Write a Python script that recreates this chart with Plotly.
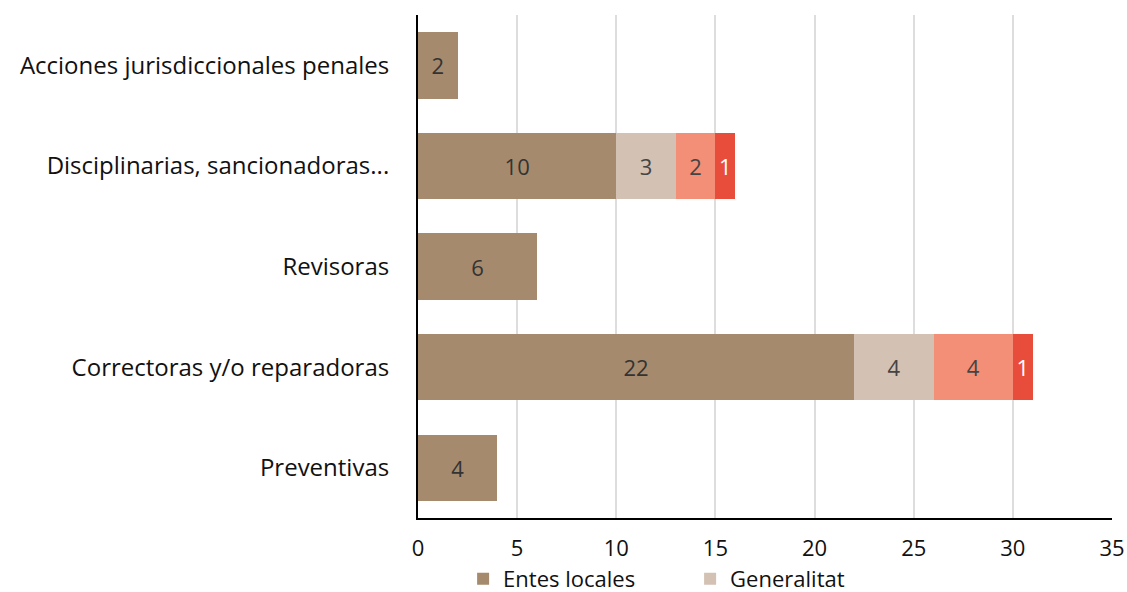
import plotly.graph_objects as go

categories = ["Acciones jurisdiccionales penales", "Disciplinarias, sancionadoras...",
              "Revisoras", "Correctoras y/o reparadoras", "Preventivas"]
entes_locales = [2, 10, 6, 22, 4]
generalitat = [None, 3, None, 4, None]
serie3 = [None, 2, None, 4, None]
serie4 = [None, 1, None, 1, None]

series = [
    ("Entes locales", entes_locales, "#A68A6D", "#333333", True),
    ("Generalitat", generalitat, "#D3C1B3", "#444444", True),
    ("Serie 3", serie3, "#F28F76", "#444444", False),
    ("Serie 4", serie4, "#E84D3C", "#FFFFFF", False),
]

FONT = "Open Sans"

fig = go.Figure()
for name, vals, color, tcolor, show in series:
    fig.add_trace(go.Bar(
        y=categories, x=vals, name=name, orientation="h",
        marker=dict(color=color, line=dict(width=0)),
        text=[str(v) if v else "" for v in vals],
        textposition="inside", insidetextanchor="middle",
        textfont=dict(color=tcolor, size=22, family=FONT),
        showlegend=show, width=0.66,
    ))

fig.update_layout(
    barmode="stack",
    width=1127, height=592,
    margin=dict(l=418, r=15, t=15, b=74, autoexpand=False),
    paper_bgcolor="white", plot_bgcolor="white",
    font=dict(family=FONT, size=21, color="#111111"),
    uniformtext=dict(minsize=14, mode="show"),
    xaxis=dict(range=[0, 35], dtick=5, showgrid=True, gridcolor="#DDDDDD", gridwidth=2,
               showline=True, linecolor="black", linewidth=2, zeroline=False,
               tickfont=dict(size=22), ticks="", ticklabelstandoff=10, automargin=False),
    yaxis=dict(autorange="reversed", showline=True, linecolor="black", linewidth=2,
               ticks="", ticklabelstandoff=22, tickfont=dict(size=24), automargin=False),
    legend=dict(orientation="h", x=0.065, xanchor="left", y=-0.121, yanchor="middle",
                font=dict(size=22), entrywidth=182, itemwidth=30,
                traceorder="normal"),
)

fig.write_html("out.html", config={"displayModeBar": False},
               post_script="document.body.style.margin='0';document.body.style.overflow='hidden';")
